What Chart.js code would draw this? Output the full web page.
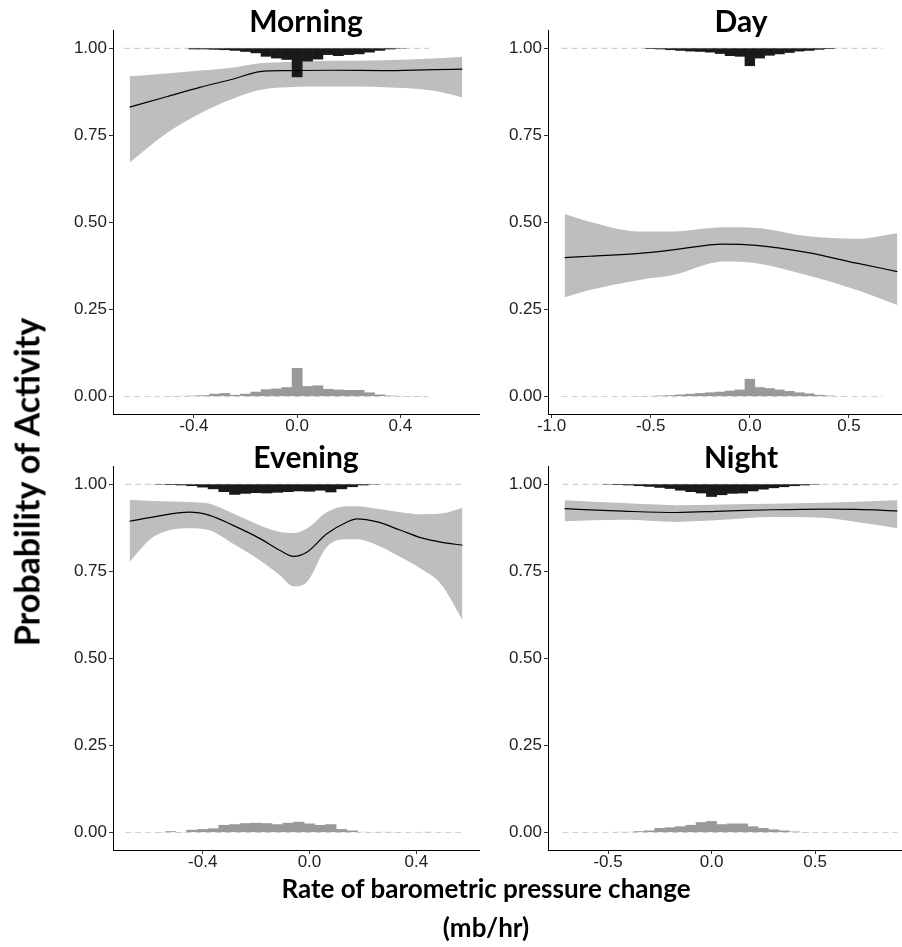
<!DOCTYPE html>
<html>
<head>
<meta charset="utf-8">
<script src="https://cdn.jsdelivr.net/npm/chart.js@4.4.0/dist/chart.umd.min.js"></script>
<style>
  html, body { margin: 0; padding: 0; background: #fff; overflow: hidden; }
  body { width: 902px; height: 947px; position: relative; }
  canvas { position: absolute; }
  #morning { left: 40px; top: 0px; }
  #day { left: 475px; top: 0px; }
  #evening { left: 40px; top: 436px; }
  #night { left: 475px; top: 436px; }
  .axtitle { position: absolute; font-family: Lato, sans-serif; font-weight: bold; color: #000; white-space: nowrap; }
  #ylab { left: 26px; top: 482px; font-size: 34px; transform: translate(-50%, -50%) rotate(-90deg); }
  #xlab { left: 486px; top: 869px; font-size: 26px; transform: translateX(-50%); text-align: center; line-height: 39px; }
</style>
</head>
<body>
<canvas id="morning" width="460" height="450"></canvas>
<canvas id="day" width="460" height="450"></canvas>
<canvas id="evening" width="460" height="450"></canvas>
<canvas id="night" width="460" height="450"></canvas>
<div id="ylab" class="axtitle">Probability of Activity</div>
<div id="xlab" class="axtitle">Rate of barometric pressure change<br>(mb/hr)</div>
<script>
// y ticks shared by all panels
const yTicks = [0, 0.25, 0.5, 0.75, 1];

// ---- Morning ----
const morningTicks = [-0.4, 0, 0.4];
const morningX   = [-0.649, -0.506, -0.377, -0.247, -0.144, -0.040, 0.141, 0.335, 0.529, 0.640];
const morningFit = [0.831, 0.861, 0.888, 0.912, 0.933, 0.936, 0.937, 0.936, 0.939, 0.940];
const morningHi  = [0.920, 0.928, 0.936, 0.945, 0.957, 0.961, 0.964, 0.966, 0.971, 0.976];
const morningLo  = [0.672, 0.756, 0.813, 0.856, 0.880, 0.888, 0.890, 0.888, 0.878, 0.859];
const morningBins = [-0.48, -0.44, -0.40, -0.36, -0.32, -0.28, -0.24, -0.20, -0.16, -0.12, -0.08, -0.04, 0,
                     0.04, 0.08, 0.12, 0.16, 0.20, 0.24, 0.28, 0.32, 0.36, 0.40, 0.44, 0.48];
const morningTop = [0, 0, 0.003, 0.003, 0.004, 0.005, 0.007, 0.010, 0.014, 0.024, 0.029, 0.033, 0.083,
                    0.038, 0.032, 0.019, 0.022, 0.019, 0.017, 0.012, 0.007, 0.003, 0.001, 0, 0];
const morningBottom = [0.001, 0.002, 0.003, 0.004, 0.008, 0.010, 0.005, 0.008, 0.014, 0.021, 0.023, 0.027, 0.082,
                       0.030, 0.032, 0.022, 0.020, 0.019, 0.019, 0.012, 0.006, 0.003, 0.001, 0.001, 0.001];
const morningRange = [-0.67, 0.51];

// ---- Day ----
const dayTicks = [-1, -0.5, 0, 0.5];
const dayX   = [-0.934, -0.808, -0.556, -0.387, -0.135, 0.034, 0.286, 0.539, 0.744];
const dayFit = [0.399, 0.403, 0.411, 0.421, 0.438, 0.434, 0.414, 0.383, 0.359];
const dayHi  = [0.524, 0.502, 0.474, 0.474, 0.486, 0.484, 0.461, 0.453, 0.469];
const dayLo  = [0.285, 0.306, 0.335, 0.349, 0.388, 0.383, 0.349, 0.306, 0.263];
const dayBins = [-0.55, -0.50, -0.45, -0.40, -0.35, -0.30, -0.25, -0.20, -0.15, -0.10, -0.05, 0,
                 0.05, 0.10, 0.15, 0.20, 0.25, 0.30, 0.35, 0.40, 0.45];
const dayTop = [0, 0.002, 0.003, 0.005, 0.007, 0.009, 0.010, 0.012, 0.016, 0.022, 0.024, 0.051,
                0.029, 0.021, 0.017, 0.013, 0.009, 0.007, 0.004, 0.002, 0];
const dayBottom = [0.001, 0.002, 0.003, 0.004, 0.006, 0.008, 0.010, 0.012, 0.014, 0.017, 0.020, 0.051,
                   0.027, 0.024, 0.020, 0.016, 0.012, 0.009, 0.005, 0.003, 0.001];
const dayRange = [-0.95, 0.67];

// ---- Evening ----
const eveningTicks = [-0.4, 0, 0.4];
const eveningX   = [-0.674, -0.587, -0.449, -0.374, -0.286, -0.185, -0.110, -0.060, -0.010, 0.065, 0.141, 0.178, 0.254, 0.341, 0.416, 0.492, 0.573];
const eveningFit = [0.894, 0.906, 0.920, 0.911, 0.882, 0.844, 0.810, 0.793, 0.805, 0.858, 0.892, 0.901, 0.892, 0.868, 0.847, 0.834, 0.825];
const eveningHi  = [0.956, 0.952, 0.949, 0.944, 0.916, 0.882, 0.863, 0.860, 0.873, 0.920, 0.937, 0.937, 0.930, 0.920, 0.914, 0.916, 0.932];
const eveningLo  = [0.777, 0.848, 0.874, 0.868, 0.829, 0.781, 0.738, 0.707, 0.719, 0.820, 0.842, 0.842, 0.825, 0.791, 0.758, 0.714, 0.611];
const eveningBins = [-0.56, -0.52, -0.48, -0.44, -0.40, -0.36, -0.32, -0.28, -0.24, -0.20, -0.16, -0.12, -0.08, -0.04, 0,
                     0.04, 0.08, 0.12, 0.16, 0.20, 0.24, 0.28, 0.32, 0.36, 0.40, 0.44, 0.48];
const eveningTop = [0.001, 0.002, 0.003, 0.005, 0.009, 0.014, 0.022, 0.030, 0.027, 0.025, 0.026, 0.024, 0.022, 0.020, 0.021,
                    0.018, 0.023, 0.014, 0.008, 0.003, 0.001, 0, 0, 0, 0, 0, 0];
const eveningBottom = [0.001, 0.004, 0.001, 0.008, 0.010, 0.012, 0.022, 0.024, 0.027, 0.028, 0.027, 0.024, 0.028, 0.031, 0.026,
                       0.022, 0.024, 0.010, 0.006, 0.002, 0.001, 0.002, 0.001, 0, 0, 0.002, 0];
const eveningRange = [-0.69, 0.58];

// ---- Night ----
const nightTicks = [-0.5, 0, 0.5];
const nightX   = [-0.710, -0.428, -0.170, 0.056, 0.298, 0.540, 0.700, 0.898];
const nightFit = [0.930, 0.923, 0.919, 0.923, 0.927, 0.929, 0.928, 0.924];
const nightHi  = [0.954, 0.946, 0.940, 0.942, 0.944, 0.947, 0.950, 0.954];
const nightLo  = [0.894, 0.898, 0.892, 0.898, 0.906, 0.904, 0.892, 0.874];
const nightBins = [-0.50, -0.45, -0.40, -0.35, -0.30, -0.25, -0.20, -0.15, -0.10, -0.05, 0,
                   0.05, 0.10, 0.15, 0.20, 0.25, 0.30, 0.35, 0.40, 0.45, 0.50];
const nightTop = [0.001, 0.002, 0.003, 0.005, 0.007, 0.010, 0.013, 0.018, 0.022, 0.026, 0.036,
                  0.031, 0.027, 0.026, 0.020, 0.015, 0.011, 0.008, 0.005, 0.003, 0.001];
const nightBottom = [0, 0.002, 0.002, 0.004, 0.006, 0.013, 0.015, 0.018, 0.022, 0.030, 0.033,
                     0.024, 0.026, 0.026, 0.018, 0.013, 0.009, 0.006, 0.003, 0.001, 0];
const nightRange = [-0.72, 0.90];

const tickFont = { family: 'Liberation Sans', size: 17 };

// draws the panel heading at a fixed spot (ggplot titles sit over the axis top)
const panelTitle = {
  id: 'panelTitle',
  afterDraw(chart, args, opts) {
    const ctx = chart.ctx;
    ctx.save();
    ctx.font = 'bold 30px Lato, sans-serif';
    ctx.fillStyle = '#000';
    ctx.textAlign = 'center';
    ctx.textBaseline = 'alphabetic';
    ctx.fillText(opts.text, opts.x, opts.y);
    ctx.restore();
  }
};

function pts(xs, ys) {
  return xs.map((x, i) => ({ x: x, y: ys[i] }));
}

function makePanel(id, title, titleY, xMin, xMax, xTicks, cx, fit, lo, hi, bins, top, bottom, range) {
  new Chart(document.getElementById(id), {
    type: 'line',
    data: {
      datasets: [
        { data: pts(cx, hi), fill: '+1', backgroundColor: '#bebebe', borderWidth: 0, pointRadius: 0,
          cubicInterpolationMode: 'monotone', order: 4 },
        { data: pts(cx, lo), fill: false, borderWidth: 0, pointRadius: 0,
          cubicInterpolationMode: 'monotone', order: 4 },
        { data: [{ x: range[0], y: 1 }, { x: range[1], y: 1 }], borderColor: '#c4c4c4', borderWidth: 1,
          borderDash: [6, 4], pointRadius: 0, order: 3 },
        { data: [{ x: range[0], y: 0 }, { x: range[1], y: 0 }], borderColor: '#d0d0d0', borderWidth: 1,
          borderDash: [6, 4], pointRadius: 0, order: 3 },
        { type: 'bar', data: bins.map((b, i) => ({ x: b, y: [1 - top[i], 1] })), backgroundColor: '#1a1a1a',
          grouped: false, barPercentage: 1.05, categoryPercentage: 1, borderWidth: 0, order: 2 },
        { type: 'bar', data: bins.map((b, i) => ({ x: b, y: [0, bottom[i]] })), backgroundColor: '#999999',
          grouped: false, barPercentage: 1.05, categoryPercentage: 1, borderWidth: 0, order: 2 },
        { data: pts(cx, fit), borderColor: '#000', borderWidth: 1.2, pointRadius: 0, fill: false,
          cubicInterpolationMode: 'monotone', order: 1 }
      ]
    },
    options: {
      responsive: false,
      animation: false,
      layout: { padding: { left: 0, right: 21, top: 30.9, bottom: 0 } },
      plugins: {
        legend: { display: false },
        tooltip: { enabled: false },
        panelTitle: { text: title, x: 266, y: titleY }
      },
      scales: {
        x: {
          type: 'linear', min: xMin, max: xMax, offset: false,
          border: { display: true, color: '#000', width: 1 },
          grid: { offset: false, drawOnChartArea: false, drawTicks: true, tickLength: 4, tickColor: '#333' },
          ticks: { autoSkip: false, maxRotation: 0, padding: -2, color: '#222', font: tickFont,
                   callback: v => v.toFixed(1) },
          afterBuildTicks: s => { s.ticks = xTicks.map(v => ({ value: v })); },
          afterFit: s => { s.height = 36; }
        },
        y: {
          type: 'linear', min: -0.05, max: 1.05,
          border: { display: true, color: '#000', width: 1 },
          grid: { offset: false, drawOnChartArea: false, drawTicks: true, tickLength: 4, tickColor: '#333' },
          ticks: { padding: 2, color: '#222', font: tickFont, callback: v => v.toFixed(2) },
          afterBuildTicks: s => { s.ticks = yTicks.map(v => ({ value: v })); },
          afterFit: s => { s.width = 73; }
        }
      }
    },
    plugins: [panelTitle]
  });
}

makePanel('morning', 'Morning', 32, -0.7135, 0.7045, morningTicks, morningX, morningFit, morningLo, morningHi,
          morningBins, morningTop, morningBottom, morningRange);
makePanel('day', 'Day', 32, -1.018, 0.828, dayTicks, dayX, dayFit, dayLo, dayHi,
          dayBins, dayTop, dayBottom, dayRange);
makePanel('evening', 'Evening', 31.5, -0.736, 0.635, eveningTicks, eveningX, eveningFit, eveningLo, eveningHi,
          eveningBins, eveningTop, eveningBottom, eveningRange);
makePanel('night', 'Night', 31.5, -0.79, 0.978, nightTicks, nightX, nightFit, nightLo, nightHi,
          nightBins, nightTop, nightBottom, nightRange);
</script>
</body>
</html>
